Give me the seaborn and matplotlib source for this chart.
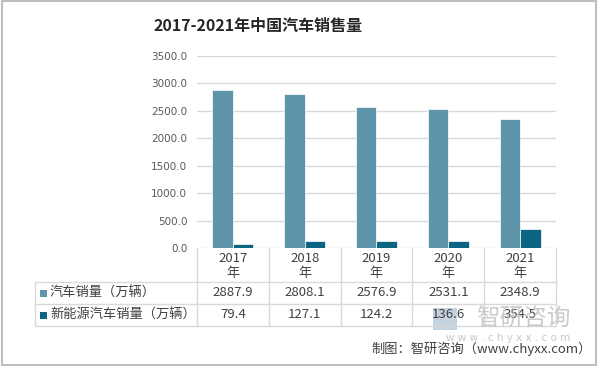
import matplotlib
matplotlib.use("Agg")
import matplotlib.pyplot as plt
import matplotlib.transforms as mtrans
from matplotlib.patches import Rectangle
import seaborn as sns
import pandas as pd

# ---- data ----
years = ["2017", "2018", "2019", "2020", "2021"]
series_names = ["汽车销量（万辆）", "新能源汽车销量（万辆）"]
car_sales = [2887.9, 2808.1, 2576.9, 2531.1, 2348.9]
nev_sales = [79.4, 127.1, 124.2, 136.6, 354.5]
yticks = [0, 500, 1000, 1500, 2000, 2500, 3000, 3500]
title = "2017-2021年中国汽车销售量"
source = "制图：智研咨询（www.chyxx.com）"
colors = ["#5E95AB", "#0C6483"]

df = pd.DataFrame({
    "year": years * 2,
    "series": [series_names[0]] * len(years) + [series_names[1]] * len(years),
    "value": car_sales + nev_sales,
})

sns.set_style("white")
plt.rcParams['font.family'] = ['Noto Sans CJK SC', 'DejaVu Sans']

W, H = 601, 366
fig = plt.figure(figsize=(W / 100, H / 100), dpi=100)

def fx(x):
    return x / W

def fy(y):
    return 1 - y / H

ax = fig.add_axes([fx(197), fy(248), fx(556) - fx(197), fy(56) - fy(248)])
sns.barplot(data=df, x="year", y="value", hue="series", palette=colors,
            width=0.57, ax=ax, legend=False, edgecolor="white", linewidth=0.5,
            saturation=1)
ax.set_ylim(0, 3500)
ax.set_xlim(-0.5, len(years) - 0.5)
ax.set_yticks(yticks)
ax.set_yticklabels([f"{v:.1f}" for v in yticks], fontsize=7.5, color="#595959",
                   family=['DejaVu Sans'])
ax.tick_params(axis='y', length=0, pad=7)
ax.set_xticks([])
ax.set_xlabel("")
ax.set_ylabel("")
for s in ax.spines.values():
    s.set_visible(False)
ax.grid(axis='y', color="#D9D9D9", linewidth=1)
ax.set_axisbelow(True)

# title
fig.text(fx(258), fy(26), title, ha="center", va="center", fontsize=11.5,
         fontweight="bold", color="#262626")

# ---- data table ----
lc = "#D9D9D9"
bt = mtrans.blended_transform_factory(ax.transData, fig.transFigure)
row_lines = [282, 304, 326]
for y in row_lines:
    fig.add_artist(plt.Line2D([fx(35), fx(197)], [fy(y), fy(y)], color=lc, lw=1))
    fig.add_artist(plt.Line2D([-0.5, len(years) - 0.5], [fy(y), fy(y)], color=lc,
                              lw=1, transform=bt))
fig.add_artist(plt.Line2D([fx(35), fx(35)], [fy(282), fy(326)], color=lc, lw=1))
for i in range(len(years) + 1):
    fig.add_artist(plt.Line2D([i - 0.5, i - 0.5], [fy(248), fy(326)], color=lc,
                              lw=1, transform=bt))

tc = "#404040"
for i, yr in enumerate(years):
    fig.text(i, fy(258), yr, transform=bt, ha="center", va="center",
             fontsize=9.5, color=tc)
    fig.text(i, fy(273), "年", transform=bt, ha="center", va="center",
             fontsize=9.5, color=tc)
    fig.text(i, fy(293), f"{car_sales[i]:.1f}", transform=bt, ha="center",
             va="center", fontsize=9.5, color=tc)
    fig.text(i, fy(315), f"{nev_sales[i]:.1f}", transform=bt, ha="center",
             va="center", fontsize=9.5, color=tc)

for k, (name, c) in enumerate(zip(series_names, colors)):
    yc = [293, 315][k]
    fig.add_artist(Rectangle((fx(40), fy(yc + 3.5)), fx(7), fy(yc - 3.5) - fy(yc + 3.5),
                             facecolor=c, edgecolor="none"))
    fig.text(fx(50), fy(yc), name, ha="left", va="center", fontsize=9.5, color=tc)

# watermark
fig.add_artist(Rectangle((fx(433), fy(330)), fx(24), fy(308) - fy(330),
                         facecolor="#9FB6CC", edgecolor="none", alpha=0.6))
fig.text(fx(523), fy(319), "智研咨询", ha="center", va="center", fontsize=17,
         color="#BFBFBF", alpha=0.8)
fig.text(fx(508), fy(338), "w w w . c h y x x . c o m", ha="center", va="center",
         fontsize=7.5, color="#C8C8C8", family=['DejaVu Sans'])

# source
fig.text(fx(592), fy(349), source, ha="right", va="center", fontsize=9.5, color=tc)

# frame
fig.add_artist(Rectangle((fx(1.5), fy(364.5)), fx(596) - fx(1.5), fy(1.5) - fy(364.5),
                         facecolor="none", edgecolor="#BFBFBF", lw=1.5))

fig.savefig("out.png", dpi=100)
